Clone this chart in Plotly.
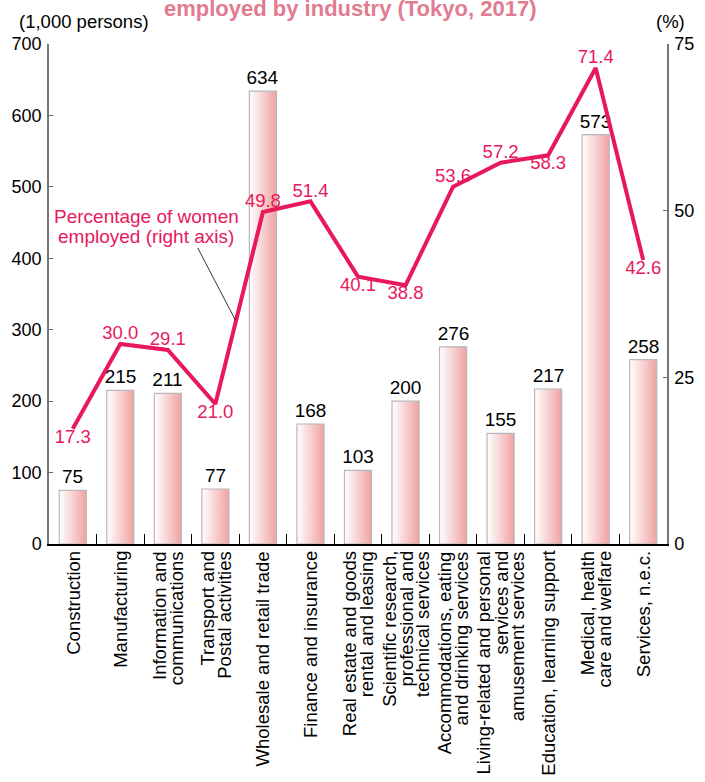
import plotly.graph_objects as go

# Employed persons (thousands) and share of women (%) by industry, Tokyo 2017
industries = [
    ["Construction"],
    ["Manufacturing"],
    ["Information and", "communications"],
    ["Transport and", "Postal activities"],
    ["Wholesale and retail trade"],
    ["Finance and insurance"],
    ["Real estate and goods", "rental and leasing"],
    ["Scientific research,", "professional and", "technical services"],
    ["Accommodations, eating", "and drinking services"],
    ["Living-related and personal", "services and", "amusement services"],
    ["Education, learning support"],
    ["Medical, health", "care and welfare"],
    ["Services, n.e.c."],
]
employed = [75, 215, 211, 77, 634, 168, 103, 200, 276, 155, 217, 573, 258]
women_pct = [17.3, 30.0, 29.1, 21.0, 49.8, 51.4, 40.1, 38.8, 53.6, 57.2, 58.3, 71.4, 42.6]
pct_label_pos = [
    "bottom center", "top center", "top center", "bottom center",
    "top center", "top center", "bottom center", "bottom center",
    "top center", "top center", "bottom center", "top center", "bottom center",
]

PINK = "#e8185c"
BAR_W = 0.57
LINE_PITCH = 16.7  # px between wrapped lines of a category label
FONT = "Liberation Sans, Arial, sans-serif"

idx = list(range(len(industries)))
fig = go.Figure()

# Gradient-filled bar bodies (white on the left fading to pink on the right)
for i, v in zip(idx, employed):
    x0, x1 = i - BAR_W / 2, i + BAR_W / 2
    fig.add_trace(go.Scatter(
        x=[x0, x1, x1, x0, x0], y=[0, 0, v, v, 0],
        mode="lines", fill="toself",
        fillgradient=dict(type="horizontal",
                          colorscale=[[0, "#ffffff"], [1, "#f0a2a2"]]),
        line=dict(color="#b8b8b8", width=1.2),
        hoverinfo="skip", showlegend=False,
    ))

# Bars carrying the value labels
fig.add_trace(go.Bar(
    x=idx, y=employed, width=BAR_W,
    marker=dict(color="rgba(0,0,0,0)", line=dict(width=0)),
    text=[str(v) for v in employed], textposition="outside",
    constraintext="none",
    textfont=dict(size=19, color="black", family=FONT),
    cliponaxis=False, showlegend=False,
))

# Percentage of women employed, on the right axis
fig.add_trace(go.Scatter(
    x=idx, y=women_pct, yaxis="y2",
    mode="lines+text",
    line=dict(color=PINK, width=4),
    text=[f"{p:.1f}" for p in women_pct],
    textposition=pct_label_pos,
    textfont=dict(size=18.5, color=PINK, family=FONT),
    cliponaxis=False, showlegend=False,
))

annotations = [
    dict(text="<b>employed by industry (Tokyo, 2017)</b>",
         xref="paper", yref="paper", x=0.487, y=1.07,
         xanchor="center", yanchor="middle", showarrow=False,
         font=dict(size=22, color="#e27a90", family=FONT)),
    dict(text="(1,000 persons)", xref="paper", yref="paper",
         x=0.057, y=1.044, xanchor="center", yanchor="middle",
         showarrow=False, font=dict(size=18.5)),
    dict(text="(%)", xref="paper", yref="paper",
         x=1.005, y=1.044, xanchor="center", yanchor="middle",
         showarrow=False, font=dict(size=18.5)),
    dict(text="Percentage of women", xref="x", yref="y2", x=1.55, y=49.2,
         xanchor="center", yanchor="middle", showarrow=False,
         font=dict(size=19, color=PINK)),
    dict(text="employed (right axis)", xref="x", yref="y2", x=1.55, y=46.2,
         xanchor="center", yanchor="middle", showarrow=False,
         font=dict(size=19, color=PINK)),
]

# Rotated category labels, wrapped lines packed tightly and aligned at the axis
for i, lines in zip(idx, industries):
    n = len(lines)
    for k, line in enumerate(lines):
        annotations.append(dict(
            text=line, xref="x", yref="paper", x=i, y=0,
            xshift=(k - (n - 1) / 2) * LINE_PITCH, yshift=-5,
            textangle=-90, xanchor="center", yanchor="top",
            showarrow=False, font=dict(size=18.5, color="black"),
        ))

fig.update_layout(
    width=705, height=782,
    margin=dict(l=49, r=38, t=44, b=238),
    paper_bgcolor="white", plot_bgcolor="white",
    font=dict(family=FONT, size=18, color="black"),
    bargap=0,
    xaxis=dict(
        range=[-0.5, len(industries) - 0.5],
        tickmode="array", tickvals=idx, showticklabels=False, ticks="",
        showgrid=False, zeroline=False,
        showline=True, linecolor="black", linewidth=1.5,
        minor=dict(tickmode="array",
                   tickvals=[i + 0.5 for i in idx[:-1]],
                   ticks="inside", ticklen=10, tickcolor="black", tickwidth=1),
    ),
    yaxis=dict(
        range=[0, 700], dtick=100,
        ticks="inside", ticklen=4, tickcolor="#666", tickwidth=1,
        tickfont=dict(size=18), ticklabelstandoff=2,
        showgrid=False, zeroline=False,
        showline=True, linecolor="#777", linewidth=1.5,
    ),
    yaxis2=dict(
        range=[0, 75], tickvals=[0, 25, 50, 75],
        overlaying="y", side="right",
        ticks="inside", ticklen=4, tickcolor="#666", tickwidth=1,
        tickfont=dict(size=18), ticklabelstandoff=2,
        showgrid=False, zeroline=False,
        showline=True, linecolor="#777", linewidth=1.5,
    ),
    annotations=annotations,
    shapes=[
        dict(type="line", xref="x", yref="y2",
             x0=2.63, y0=44.4, x1=3.42, y1=33.6,
             line=dict(color="black", width=0.8)),
    ],
)

fig.write_html("out.html")
